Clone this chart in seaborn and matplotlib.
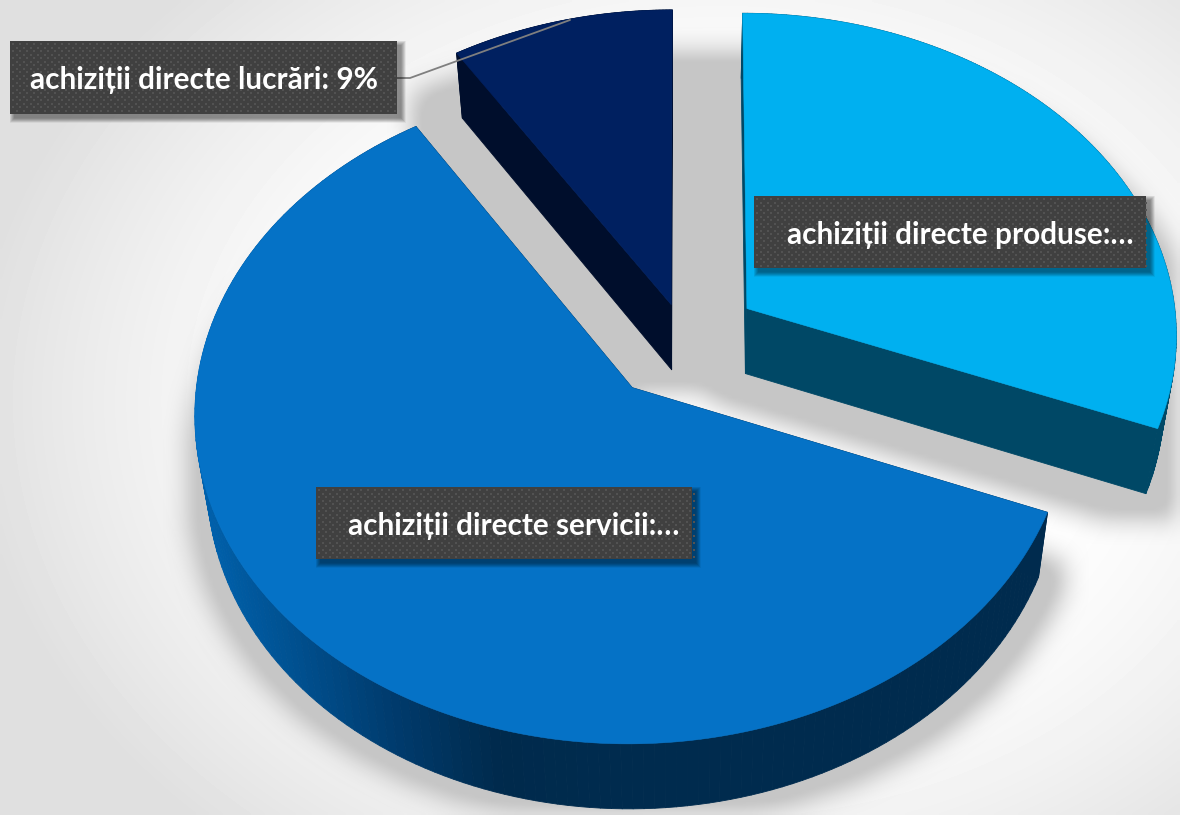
import numpy as np
import matplotlib
matplotlib.use('Agg')
import matplotlib.pyplot as plt
import seaborn as sns
from matplotlib.collections import PolyCollection
from matplotlib.patches import Polygon, Rectangle
from matplotlib.path import Path

# values
categories = ['achiziții directe produse', 'achiziții directe servicii', 'achiziții directe lucrări']
shares = [31, 60, 9]
label_texts = ['achiziții directe produse:…', 'achiziții directe servicii:…', 'achiziții directe lucrări: 9%']
explode = [0.175, 0.19, 0.115]
top_colors = ['#00b0f0', '#0572c6', '#002060']

sns.set_theme(style='white')
plt.rcParams['font.family'] = ['Lato', 'DejaVu Sans']

W, H = 1180, 815
CX, CY, A, B, K = 685, 340, 431, 322, 0.075
DEPTH, SHRINK = 65, 0.975
# how far each slice's shadow spreads, x and y, in pixels
spread = [(38, 28), (22, 16), (55, 24)]


def project(u, v):
    # pie plane to picture, with a little perspective
    w = 1 + K * v
    return CX + A * u / w, CY - B * v / w


def extrude(pts):
    return np.column_stack([CX + (pts[:, 0] - CX) * SHRINK, pts[:, 1] + DEPTH])


def box_filter(img, n, axis):
    kernel = np.ones(n) / n
    return np.apply_along_axis(lambda c: np.convolve(c, kernel, mode='same'), axis, img)


fig = plt.figure(figsize=(W / 100, H / 100), dpi=100)
ax = fig.add_axes([0, 0, 1, 1])
wedges, _ = ax.pie(shares, startangle=90, counterclock=False, explode=explode, colors=top_colors)

# turn the pie wedges into tilted outlines
outlines = []
for w in wedges:
    t = np.radians(np.linspace(w.theta1, w.theta2, 160))
    u = np.r_[w.center[0], w.center[0] + w.r * np.cos(t)]
    v = np.r_[w.center[1], w.center[1] + w.r * np.sin(t)]
    x, y = project(u, v)
    outlines.append(np.column_stack([x, y]))
    w.remove()

ax.set_aspect('auto')
ax.set_xlim(0, W)
ax.set_ylim(H, 0)
ax.axis('off')

# background
yy, xx = np.mgrid[0:H:4, 0:W:4]
r = np.hypot((xx - 720) / 720, (yy - 400) / 560)
bg = np.clip(1 - 0.11 * (np.clip(r - 0.45, 0, None) / 0.55) ** 1.5, 0.875, 1)
ax.imshow(bg, cmap='gray', vmin=0, vmax=1, extent=[0, W, H, 0], aspect='auto', zorder=0, interpolation='bilinear')

# soft shadow under the slices
grid = np.column_stack([xx.ravel() + 2, yy.ravel() + 2])
mask = np.zeros(xx.shape)
for pts, (sx, sy) in zip(outlines, spread):
    one = Path(extrude(pts)).contains_points(grid).reshape(xx.shape).astype(float)
    one = box_filter(one, 2 * sx // 4 + 1, 1) > 0
    one = box_filter(one.astype(float), 2 * sy // 4 + 1, 0) > 0
    mask = np.maximum(mask, one.astype(float))
blur = mask
for _ in range(2):
    blur = box_filter(box_filter(blur, 7, 0), 7, 1)
rgba = np.zeros(xx.shape + (4,))
rgba[..., :3] = 0.78
rgba[..., 3] = np.clip(blur * 1.25, 0, 1)
ax.imshow(rgba, extent=[0, W, H, 0], aspect='auto', zorder=1, interpolation='bilinear')

# side walls, coloured along x
servicii_wall = sns.blend_palette(['#0062ae', '#004f8e', '#003a6b', '#002a4c', '#002b4e', '#002b4e'], as_cmap=True)
wall_maps = [sns.blend_palette(['#004866', '#004866'], as_cmap=True),
             servicii_wall,
             sns.blend_palette(['#000e2c', '#000e2c'], as_cmap=True)]
for pts, cmap in zip(outlines, wall_maps):
    closed = np.vstack([pts, pts[:1]])
    low = extrude(closed)
    quads = [np.array([closed[i], closed[i + 1], low[i + 1], low[i]]) for i in range(len(closed) - 1)]
    quads.sort(key=lambda q: q[:, 1].mean())
    cols = [cmap(np.clip((q[:, 0].mean() - 200) / 500, 0, 1)) for q in quads]
    ax.add_collection(PolyCollection(quads, facecolors=cols, edgecolors=cols, linewidths=0.6, zorder=2))

# top faces
for pts, col in zip(outlines, top_colors):
    ax.add_patch(Polygon(pts, closed=True, facecolor=col, edgecolor=col, linewidth=0.4, zorder=3))

# leader line of the small slice
ax.plot([397, 410, 570], [78, 78, 20], color='#7f7f7f', linewidth=1.3, zorder=4)

# label boxes
boxes = [(754, 196, 392, 72), (316, 487, 376, 72), (10, 41, 387, 73)]
text_x = [787, 348, 30]
for (bx, by, bw, bh), tx, txt in zip(boxes, text_x, label_texts):
    for grow in range(10):
        ax.add_patch(Rectangle((bx + 4 - grow * 0.5, by + 4 - grow * 0.5), bw + grow, bh + grow,
                               facecolor='black', edgecolor='none', alpha=0.05, zorder=5))
    ax.add_patch(Rectangle((bx, by), bw, bh, facecolor='#404040', edgecolor='none', zorder=6))
    dx, dy = np.meshgrid(np.arange(bx + 3, bx + bw, 7), np.arange(by + 3, by + bh, 7))
    ax.scatter(dx.ravel(), dy.ravel(), s=1.2, marker='s', color='#525252', linewidths=0, zorder=7)
    ax.scatter(dx.ravel() + 3.5, np.clip(dy.ravel() + 3.5, None, by + bh - 1), s=1.2, marker='s', color='#525252',
               linewidths=0, zorder=7)
    ax.text(tx, by + bh / 2 + 3, txt, color='white', fontsize=21.4, fontweight='bold', va='center', ha='left', zorder=8)

fig.savefig('out.png', dpi=100)
